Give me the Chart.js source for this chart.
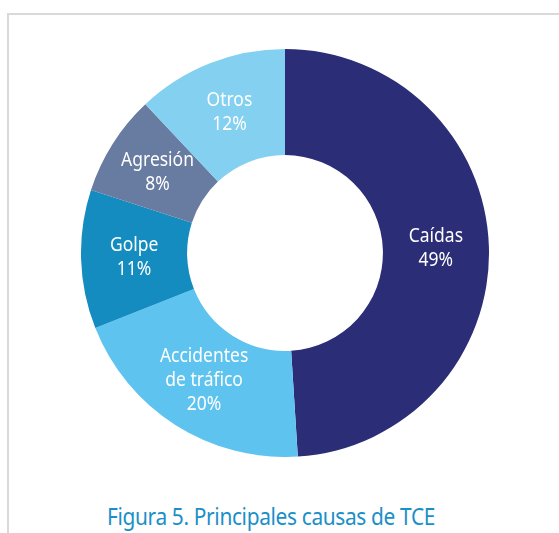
<!DOCTYPE html>
<html>
<head>
<meta charset="utf-8">
<script src="https://cdn.jsdelivr.net/npm/chart.js@4"></script>
<style>
  html, body { margin: 0; padding: 0; background: #fff; }
  body { width: 559px; height: 533px; position: relative; overflow: hidden; font-family: "Noto Sans", sans-serif; }
  .frame { position: absolute; left: 7px; top: 13px; right: -2px; bottom: -2px; border-top: 2px solid #d9d9d9; border-left: 2px solid #d9d9d9; }
  .wrap { position: absolute; left: 81px; top: 49px; width: 408px; height: 408px; }
  .caption { position: absolute; left: 0; width: 542px; top: 499px; text-align: center; color: #1b8fc7; font-size: 24px; letter-spacing: -0.4px; transform: scaleX(0.87); transform-origin: 271px 0; }
</style>
</head>
<body>
<div class="frame"></div>
<div class="wrap"><canvas id="tceChart"></canvas></div>
<div class="caption">Figura 5. Principales causas de TCE</div>
<script>
// datos
const categories = ['Caídas', 'Accidentes de tráfico', 'Golpe', 'Agresión', 'Otros'];
const labelLines = [['Caídas'], ['Accidentes', 'de tráfico'], ['Golpe'], ['Agresión'], ['Otros']];
const percentages = [49, 20, 11, 8, 12];
const sliceColors = ['#2b2d77', '#5ec4ef', '#148cc0', '#687ca2', '#83d0f1'];

// etiquetas dentro de cada sector
const sliceLabels = {
    id: 'sliceLabels',
    afterDatasetsDraw(chart) {
        const ctx = chart.ctx;
        const meta = chart.getDatasetMeta(0);
        const sx = 0.92;
        ctx.save();
        ctx.fillStyle = '#ffffff';
        ctx.font = '19px "Noto Sans", sans-serif';
        ctx.textAlign = 'center';
        ctx.textBaseline = 'middle';
        meta.data.forEach((arc, i) => {
            const pos = arc.tooltipPosition();
            const lines = labelLines[i].concat([percentages[i] + '%']);
            const lh = 24;
            const y0 = pos.y - (lines.length - 1) * lh / 2;
            lines.forEach((txt, j) => {
                ctx.save();
                ctx.translate(pos.x, y0 + j * lh);
                ctx.scale(sx, 1);
                ctx.fillText(txt, 0, 0);
                ctx.restore();
            });
        });
        ctx.restore();
    }
};

new Chart(document.getElementById('tceChart'), {
    type: 'doughnut',
    data: {
        labels: categories,
        datasets: [{
            data: percentages,
            backgroundColor: sliceColors,
            borderWidth: 0
        }]
    },
    options: {
        responsive: true,
        maintainAspectRatio: false,
        animation: false,
        cutout: '48%',
        layout: { padding: 0 },
        plugins: {
            legend: { display: false },
            tooltip: { enabled: false }
        }
    },
    plugins: [sliceLabels]
});
</script>
</body>
</html>
